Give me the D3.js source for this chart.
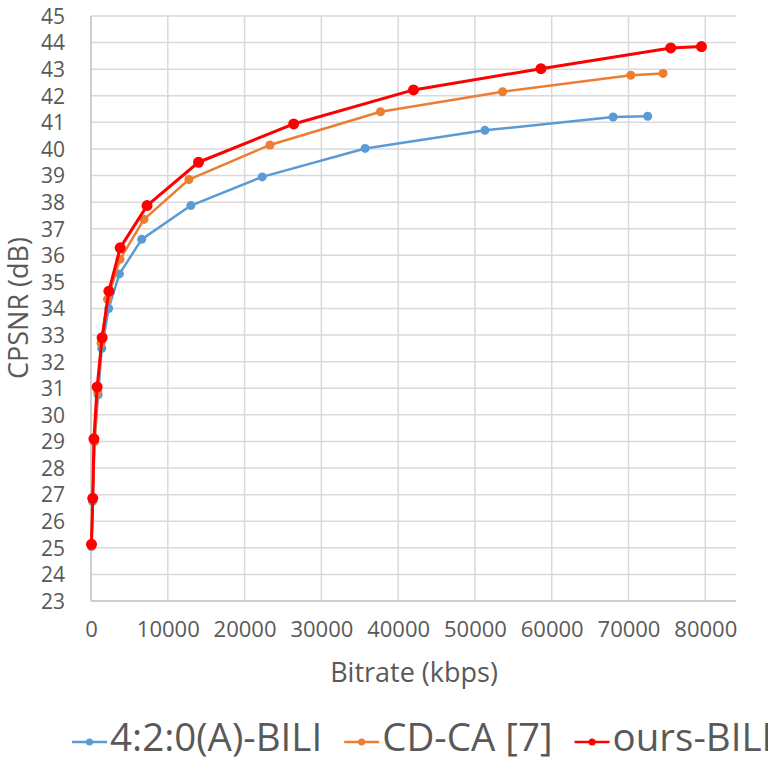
<!DOCTYPE html>
<html>
<head>
<meta charset="utf-8">
<script src="https://cdn.jsdelivr.net/npm/d3@7"></script>
<style>
  body { margin: 0; background: #fff; overflow: hidden; }
  text { font-family: "Open Sans", "Liberation Sans", sans-serif; fill: #595959; }
</style>
</head>
<body>
<script>
// series names
const seriesNames = ["4:2:0(A)-BILI", "CD-CA [7]", "ours-BILI"];
const seriesColors = ["#5b9bd5", "#ed7d31", "#ff0000"];

// bitrate (kbps) for each point
const bitrateBili420 = [60, 200, 450, 930, 1400, 2300, 3700, 6600, 13000, 22300, 35700, 51300, 68000, 72500];
const bitrateCdca = [60, 210, 470, 880, 1300, 2150, 3780, 6900, 12750, 23300, 37700, 53600, 70300, 74500];
const bitrateOurs = [65, 230, 380, 800, 1450, 2330, 3800, 7300, 14000, 26400, 42000, 58600, 75500, 79500];

// CPSNR (dB) for each point
const psnrBili420 = [25.05, 26.75, 29.0, 30.75, 32.5, 34.0, 35.3, 36.6, 37.87, 38.95, 40.02, 40.7, 41.2, 41.23];
const psnrCdca = [25.07, 26.8, 29.0, 30.85, 32.7, 34.35, 35.85, 37.35, 38.85, 40.15, 41.4, 42.15, 42.77, 42.84];
const psnrOurs = [25.13, 26.86, 29.1, 31.05, 32.9, 34.65, 36.28, 37.87, 39.5, 40.94, 42.22, 43.02, 43.8, 43.85];

// tick values
const xTicks = [0, 10000, 20000, 30000, 40000, 50000, 60000, 70000, 80000];
const yTicks = d3.range(23, 46, 1);

const series = [
  { name: seriesNames[0], color: seriesColors[0], xs: bitrateBili420, ys: psnrBili420, lw: 2.5, r: 4.5 },
  { name: seriesNames[1], color: seriesColors[1], xs: bitrateCdca, ys: psnrCdca, lw: 2.5, r: 4.5 },
  { name: seriesNames[2], color: seriesColors[2], xs: bitrateOurs, ys: psnrOurs, lw: 3, r: 5.5 }
];

const width = 768, height = 762;
const plot = { left: 91, right: 736, top: 16, bottom: 601 };

const svg = d3.select("body")
    .append("svg")
    .attr("width", width)
    .attr("height", height);

const x = d3.scaleLinear()
    .domain([0, 84000])
    .range([plot.left, plot.right]);

const y = d3.scaleLinear()
    .domain([23, 45])
    .range([plot.bottom, plot.top]);

// horizontal gridlines
svg.append("g")
    .selectAll("line")
    .data(yTicks)
    .enter()
    .append("line")
    .attr("x1", plot.left)
    .attr("x2", plot.right)
    .attr("y1", d => y(d))
    .attr("y2", d => y(d))
    .attr("stroke", d => d === 23 ? "#bfbfbf" : "#d9d9d9")
    .attr("stroke-width", 1.5);

// vertical gridlines
svg.append("g")
    .selectAll("line")
    .data(xTicks)
    .enter()
    .append("line")
    .attr("x1", d => x(d))
    .attr("x2", d => x(d))
    .attr("y1", plot.top)
    .attr("y2", plot.bottom)
    .attr("stroke", d => d === 0 ? "#bfbfbf" : "#d9d9d9")
    .attr("stroke-width", 1.5);

// Y axis labels
const yAxis = svg.append("g")
    .attr("transform", `translate(${plot.left},0)`)
    .call(d3.axisLeft(y).tickValues(yTicks).tickSize(0).tickPadding(26).tickFormat(d3.format("d")));
yAxis.select(".domain").remove();
yAxis.selectAll("text")
    .style("font-size", "21px")
    .attr("dy", "0.35em")
    .attr("fill", "#595959");

// X axis labels
const xAxis = svg.append("g")
    .attr("transform", `translate(0,${plot.bottom})`)
    .call(d3.axisBottom(x).tickValues(xTicks).tickSize(0).tickPadding(20).tickFormat(d3.format("d")));
xAxis.select(".domain").remove();
xAxis.selectAll("text")
    .style("font-size", "22px")
    .attr("dy", "0.71em")
    .attr("fill", "#595959");

// axis titles
svg.append("text")
    .attr("x", 414)
    .attr("y", 682)
    .attr("text-anchor", "middle")
    .style("font-size", "27px")
    .text("Bitrate (kbps)");

svg.append("text")
    .attr("transform", "translate(28,308) rotate(-90)")
    .attr("text-anchor", "middle")
    .style("font-size", "27px")
    .text("CPSNR (dB)");

// lines and dots
const line = d3.line()
    .x(d => x(d[0]))
    .y(d => y(d[1]));

series.forEach(function(s) {
  const pts = s.xs.map((v, i) => [v, s.ys[i]]);
  const g = svg.append("g");
  g.append("path")
      .datum(pts)
      .attr("d", line)
      .attr("fill", "none")
      .attr("stroke", s.color)
      .attr("stroke-width", s.lw)
      .attr("stroke-linejoin", "round");
  g.selectAll("circle")
      .data(pts)
      .enter()
      .append("circle")
      .attr("cx", d => x(d[0]))
      .attr("cy", d => y(d[1]))
      .attr("r", s.r)
      .attr("fill", s.color);
});

// legend (last entry runs off the right edge like the original)
let lx = 72;
const ly = 742;
series.forEach(function(s) {
  const g = svg.append("g");
  g.append("line")
      .attr("x1", lx).attr("x2", lx + 35)
      .attr("y1", ly).attr("y2", ly)
      .attr("stroke", s.color)
      .attr("stroke-width", 2.5);
  g.append("circle")
      .attr("cx", lx + 17.5)
      .attr("cy", ly)
      .attr("r", 3.5)
      .attr("fill", s.color);
  const t = g.append("text")
      .attr("x", lx + 38)
      .attr("y", 751)
      .style("font-size", "38.5px")
      .text(s.name);
  lx = lx + 38 + t.node().getComputedTextLength() + 22;
});
</script>
</body>
</html>
